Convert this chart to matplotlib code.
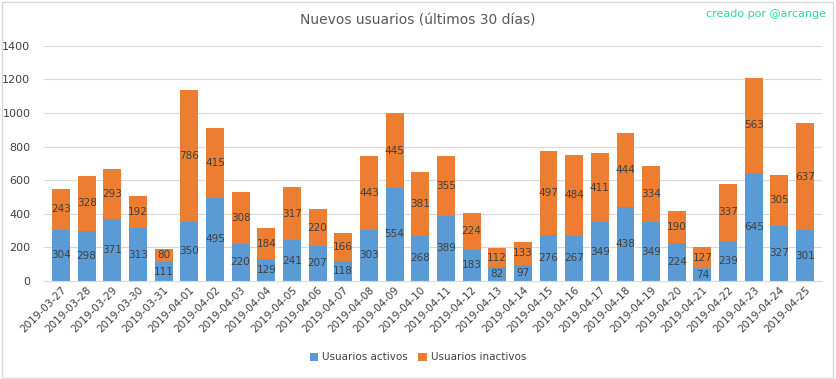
import numpy as np
import matplotlib.pyplot as plt

# -----------------------------
# Data
# -----------------------------

dates = [
    "2019-03-27", "2019-03-28", "2019-03-29", "2019-03-30", "2019-03-31",
    "2019-04-01", "2019-04-02", "2019-04-03", "2019-04-04", "2019-04-05",
    "2019-04-06", "2019-04-07", "2019-04-08", "2019-04-09", "2019-04-10",
    "2019-04-11", "2019-04-12", "2019-04-13", "2019-04-14", "2019-04-15",
    "2019-04-16", "2019-04-17", "2019-04-18", "2019-04-19", "2019-04-20",
    "2019-04-21", "2019-04-22", "2019-04-23", "2019-04-24", "2019-04-25",
]

activos = [304, 298, 371, 313, 111, 350, 495, 220, 129, 241,
           207, 118, 303, 554, 268, 389, 183, 82, 97, 276,
           267, 349, 438, 349, 224, 74, 239, 645, 327, 301]

inactivos = [243, 328, 293, 192, 80, 786, 415, 308, 184, 317,
             220, 166, 443, 445, 381, 355, 224, 112, 133, 497,
             484, 411, 444, 334, 190, 127, 337, 563, 305, 637]

blue = "#5B9BD5"
orange = "#ED7D31"
text_color = "#404040"

# -----------------------------
# Figure
# -----------------------------

fig = plt.figure(figsize=(8.36, 3.79), dpi=100)
ax = fig.add_axes([0.053, 0.259, 0.930, 0.620])

x = np.arange(len(dates))

bars_a = ax.bar(x, activos, width=0.7, color=blue, label="Usuarios activos", zorder=2)
bars_i = ax.bar(x, inactivos, width=0.7, bottom=activos, color=orange,
                label="Usuarios inactivos", zorder=2)

ax.bar_label(bars_a, label_type="center", fontsize=7.5, color=text_color)
ax.bar_label(bars_i, label_type="center", fontsize=7.5, color=text_color)

ax.set_xlim(-0.65, len(dates) - 0.35)
ax.set_ylim(0, 1400)
ax.set_yticks(range(0, 1401, 200))
ax.grid(axis="y", color="#d9d9d9", linewidth=0.8, zorder=0)

ax.set_xticks(x)
ax.set_xticklabels(dates, rotation=45, ha="right", rotation_mode="anchor",
                   fontsize=7.5, color=text_color)
ax.tick_params(axis="y", labelsize=8, colors=text_color, length=0, pad=10)
ax.tick_params(axis="x", length=0, pad=3)

for side in ["top", "right", "left"]:
    ax.spines[side].set_visible(False)
ax.spines["bottom"].set_color("#d9d9d9")

fig.text(0.5, 0.947, "Nuevos usuarios (últimos 30 días)", ha="center", va="center",
         fontsize=10, color="#595959")
fig.text(0.988, 0.962, "creado por @arcange", ha="right", va="center",
         fontsize=8, color="#2ad4a0")

fig.legend(loc="center", bbox_to_anchor=(0.5, 0.057), ncol=2, frameon=False,
           fontsize=7.5, handlelength=0.8, handleheight=0.8, columnspacing=1.0,
           handletextpad=0.4, labelcolor=text_color)

fig.patches.append(plt.Rectangle((0.002, 0.003), 0.995, 0.993, transform=fig.transFigure,
                                 fill=False, edgecolor="#d9d9d9", linewidth=1))

fig.savefig("out.png", dpi=100)
